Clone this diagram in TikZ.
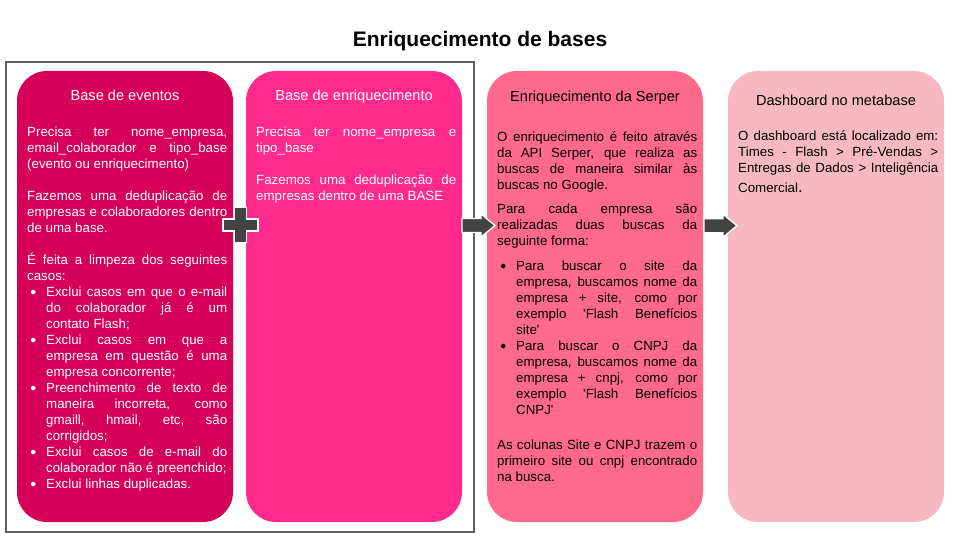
\documentclass[tikz,border=0pt]{standalone}
\usepackage{fontspec}
\newfontfamily\arialfont{Liberation Sans}
\usetikzlibrary{calc}

\definecolor{eventosfill}{RGB}{214,0,90}
\definecolor{enriqfill}{RGB}{255,42,140}
\definecolor{serperfill}{RGB}{255,105,140}
\definecolor{dashfill}{RGB}{246,185,196}
\definecolor{framegray}{RGB}{95,95,95}
\definecolor{shapegray}{RGB}{67,67,67}

% body text settings and bullet items
\newcommand{\bodyset}{\fontsize{13.3}{16}\selectfont\parindent=0pt\hyphenpenalty=10000\exhyphenpenalty=10000}
\newcommand{\bitem}{\par\hangindent=19pt\hangafter=0\noindent\llap{\raisebox{1pt}{\fontsize{10.5}{16}\selectfont ●}\hspace{9.8pt}}}

\begin{document}
\begin{tikzpicture}[x=1pt,y=-1pt,
	box/.style={rounded corners=30pt, minimum width=216pt, minimum height=451pt, inner sep=0pt},
	boxtitle/.style={anchor=base, font=\arialfont\fontsize{14.6}{17}\selectfont},
	boxbody/.style={anchor=north west, inner sep=0pt, text width=200pt, align=justify, font=\arialfont\bodyset},
	darkshape/.style={fill=shapegray, draw=white, line width=1.3pt}]
	
	\useasboundingbox (0,0) rectangle (960,540);
	
	% heading
	\node[anchor=base, font=\arialfont\bfseries\fontsize{21}{25}\selectfont] (heading) at (480,47) {Enriquecimento de bases};
	
	% frame round the two input bases
	\draw[framegray, line width=2pt] (6,62) rectangle (474,532);
	
	% boxes
	\node[box, fill=eventosfill] (eventos) at (125,296.5) {};
	\node[box, fill=enriqfill] (enriq) at (354,296.5) {};
	\node[box, fill=serperfill] (serper) at (595,296.5) {};
	\node[box, fill=dashfill] (dash) at (836,296.5) {};
	
	% titles
	\node[boxtitle, text=white] (eventosT) at (125,101) {Base de eventos};
	\node[boxtitle, text=white] (enriqT) at (354,101) {Base de enriquecimento};
	\node[boxtitle, text=black] (serperT) at (595,101.7) {Enriquecimento da Serper};
	\node[boxtitle, text=black] (dashT) at (836,106) {Dashboard no metabase};
	
	% texts
	\node[boxbody, text=white] (eventosB) at (27,124.8) {\strut Precisa ter nome\_empresa,\linebreak email\_colaborador e tipo\_base\linebreak (evento ou enriquecimento)\par
		\vspace{16pt}
		Fazemos uma deduplicação de\linebreak empresas e colaboradores dentro\linebreak de uma base.\par
		\vspace{16pt}
		É feita a limpeza dos seguintes\linebreak casos:
		\bitem Exclui casos em que o e-mail\linebreak do colaborador já é um\linebreak contato Flash;
		\bitem Exclui casos em que a\linebreak empresa em questão é uma\linebreak empresa concorrente;
		\bitem Preenchimento de texto de\linebreak maneira incorreta, como\linebreak gmaill, hmail, etc, são\linebreak corrigidos;
		\bitem Exclui casos de e-mail do\linebreak colaborador não é preenchido;
		\bitem Exclui linhas duplicadas.\par};
	\node[boxbody, text=white] (enriqB) at (256,124.8) {\strut Precisa ter nome\_empresa e\linebreak tipo\_base\par
		\vspace{16pt}
		Fazemos uma deduplicação de\linebreak empresas dentro de uma BASE\par};
	\node[boxbody, text=black] (serperB) at (497,129.8) {\strut O enriquecimento é feito através\linebreak da API Serper, que realiza as\linebreak buscas de maneira similar às\linebreak buscas no Google.\par
		\vspace{8pt}
		Para cada empresa são\linebreak realizadas duas buscas da\linebreak seguinte forma:\par
		\vspace{9.7pt}
		\bitem Para buscar o site da\linebreak empresa, buscamos nome da\linebreak empresa + site, como por\linebreak exemplo 'Flash Benefícios\linebreak site'
		\bitem Para buscar o CNPJ da\linebreak empresa, buscamos nome da\linebreak empresa + cnpj, como por\linebreak exemplo 'Flash Benefícios\linebreak CNPJ'\par
		\vspace{19pt}
		As colunas Site e CNPJ trazem o\linebreak primeiro site ou cnpj encontrado\linebreak na busca.\par};
	\node[boxbody, text=black] (dashB) at (738,128.8) {\strut O dashboard está localizado em:\linebreak Times - Flash > Pré-Vendas >\linebreak Entregas de Dados > Inteligência\vadjust{\vskip4.6pt}\linebreak Comercial{\fontsize{17}{16}\selectfont .}\par};
	
	% plus between the two bases
	\coordinate (plusc) at (240.5,225);
	\draw[darkshape] (plusc) ++(-6,-17.5) -- ++(12,0) -- ++(0,11.5) -- ++(11.5,0) -- ++(0,12) -- ++(-11.5,0) -- ++(0,11.5) -- ++(-12,0) -- ++(0,-11.5) -- ++(-11.5,0) -- ++(0,-12) -- ++(11.5,0) -- cycle;
	
	% block arrows
	\coordinate (arrowA) at (478.5,225.5);
	\coordinate (arrowB) at (720.5,225.7);
	\foreach \a in {arrowA,arrowB}
		\draw[darkshape] (\a) ++(-16.5,-7) -- ++(19,0) -- ++(0,-4.5) -- ++(14,11.5) -- ++(-14,11.5) -- ++(0,-4.5) -- ++(-19,0) -- cycle;
	
\end{tikzpicture}
\end{document}
